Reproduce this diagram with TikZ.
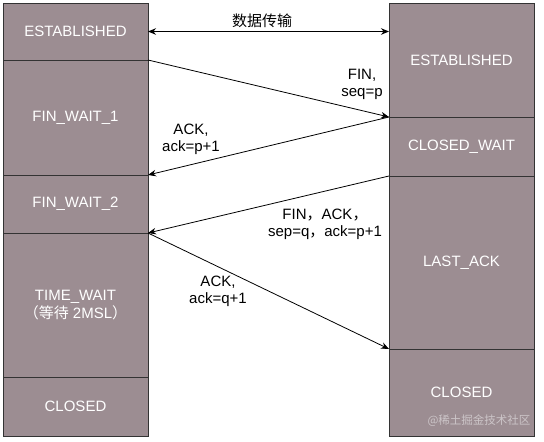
\documentclass[tikz,border=0pt]{standalone}
\usepackage{fontspec}
\setmainfont{Liberation Sans}
\newfontfamily\cjk{Noto Sans CJK SC}
\usetikzlibrary{arrows.meta,positioning}
\definecolor{StateFill}{RGB}{156,141,146}
\definecolor{StateLine}{RGB}{51,51,51}
\definecolor{MarkGray}{RGB}{204,197,200}

\begin{document}
\begin{tikzpicture}[
    x=1pt, y=-1pt,
    node distance=0pt,
    state/.style={
      rectangle, draw=StateLine, line width=1pt, fill=StateFill,
      text=white, minimum width=145pt, inner sep=0pt, outer sep=0pt,
      align=center, font=\fontsize{15}{18}\selectfont
    },
    msg/.style={align=center, inner sep=0pt, font=\fontsize{15}{16.5}\selectfont},
    arrow/.style={-{Stealth[length=8pt,width=6.5pt]}, line width=0.8pt}
  ]
    \useasboundingbox (0,0) rectangle (544,442);

    % client side
    \node[state, minimum height=57pt, anchor=north west] (cest) at (3,3) {ESTABLISHED};
    \node[state, minimum height=115pt, below=of cest] (fw1) {FIN\_WAIT\_1};
    \node[state, minimum height=58pt, below=of fw1] (fw2) {FIN\_WAIT\_2};
    \node[state, minimum height=144pt, below=of fw2] (tw) {TIME\_WAIT\\{\cjk （等待} 2MSL{\cjk ）}};
    \node[state, minimum height=59pt, below=of tw] (cclosed) {CLOSED};

    % server side
    \node[state, minimum height=114pt, anchor=north west] (sest) at (389,3) {ESTABLISHED};
    \node[state, minimum height=59pt, below=of sest] (cw) {CLOSED\_WAIT};
    \node[state, minimum height=173pt, below=of cw] (lack) {LAST\_ACK};
    \node[state, minimum height=87pt, below=of lack] (sclosed) {CLOSED};

    % messages
    \draw[arrow, {Stealth[length=8pt,width=6.5pt]}-{Stealth[length=8pt,width=6.5pt]}]
      (cest.east) -- (cest.east -| sest.west);
    \draw[arrow] (cest.south east) -- (sest.south west);
    \draw[arrow] (sest.south west) -- (fw1.south east);
    \draw[arrow] (cw.south west) -- (fw2.south east);
    \draw[arrow] (fw2.south east) -- (lack.south west);

    \node[msg] (data) at (262,20.5) {\cjk 数据传输};
    \node[msg] (fin) at (362,84.5) {FIN,\\seq=p};
    \node[msg] (ack1) at (191,139.5) {ACK,\\ack=p+1};
    \node[msg] (finack) at (325,224.5) {FIN{\cjk ，}ACK{\cjk ，}\\sep=q{\cjk ，}ack=p+1};
    \node[msg] (ack2) at (218,291.5) {ACK,\\ack=q+1};

    \node[inner sep=0pt, text=MarkGray, font=\cjk\fontsize{11.5}{12}\selectfont] (mark) at (479,421) {@稀土掘金技术社区};
  \end{tikzpicture}
\end{document}
